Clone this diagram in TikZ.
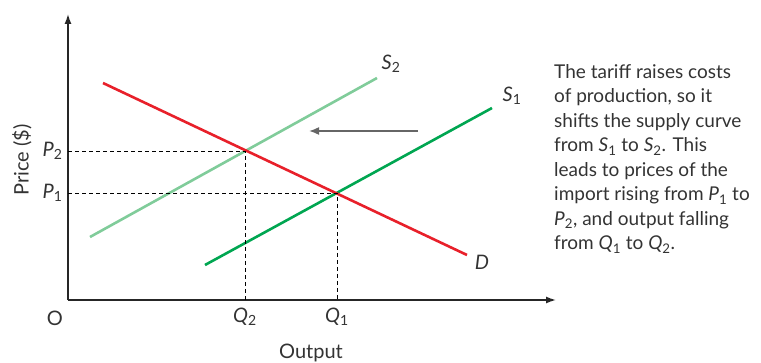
\documentclass[tikz,border=0pt]{standalone}
\usepackage{fontspec}
\setmainfont{Lato}
\usepackage{tikz}
\usetikzlibrary{arrows.meta,positioning}

\definecolor{dred}{HTML}{E8202A}
\definecolor{sgreen}{HTML}{00A651}
\definecolor{lgreen}{HTML}{80CC9A}
\definecolor{txt}{HTML}{333333}
\newcommand{\vr}[2]{\textit{#1}\textsubscript{#2}}

\begin{document}
\begin{tikzpicture}[x=1pt,y=1pt,font=\fontsize{20}{24.5}\selectfont,text=txt,
  axis/.style={line width=1.4pt,black!85,-{Latex[length=10pt,width=7pt]}},
  curve/.style={line width=2.6pt},
  guide/.style={black,line width=0.9pt,dash pattern=on 4pt off 3pt}]
  \useasboundingbox (0,0) rectangle (761,362);
  % axes
  \coordinate (O) at (68,62);
  \coordinate (ytop) at (68,348);
  \coordinate (xend) at (556,62);
  \draw[axis] (O)--(ytop);
  \draw[axis] (O)--(xend);
  % curves
  \coordinate (D0) at (103,279);
  \coordinate (D1) at (467,107);
  \coordinate (S10) at (205,97);
  \coordinate (S11) at (492,254);
  \coordinate (S20) at (90,125);
  \coordinate (S21) at (377,284);
  \draw[curve,lgreen] (S20)--(S21);
  \draw[curve,sgreen] (S10)--(S11);
  \draw[curve,dred] (D0)--(D1);
  % equilibria
  \coordinate (E2) at (245,211);
  \coordinate (E1) at (337,169);
  \coordinate (P2) at (O|-E2);
  \coordinate (P1) at (O|-E1);
  \coordinate (Q2) at (O-|E2);
  \coordinate (Q1) at (O-|E1);
  \draw[guide] (P2)--(E2)--(Q2);
  \draw[guide] (P1)--(E1)--(Q1);
  % shift arrow
  \coordinate (A0) at (418,231);
  \coordinate (A1) at (309,231);
  \draw[black!60,line width=1.6pt,-{Latex[length=10pt,width=8pt]}] (A0)--(A1);
  % labels
  \node[left=2pt] (lP2) at (P2) {\vr{P}{2}};
  \node[left=2pt] (lP1) at (P1) {\vr{P}{1}};
  \node[below=4pt] (lQ2) at (Q2) {\vr{Q}{2}};
  \node[below=4pt] (lQ1) at (Q1) {\vr{Q}{1}};
  \node (lO) at (55,44) {O};
  \node (lS2) at (391,298) {\vr{S}{2}};
  \node (lS1) at (512,266) {\vr{S}{1}};
  \node (lD) at (482,100) {\textit{D}};
  \node (xlab) at (311,9) {Output};
  \node[rotate=90] (ylab) at (22,202) {Price (\$)};
  \node[anchor=north west,align=left,inner sep=0pt,
        font=\fontsize{19}{24.5}\selectfont] (note) at (554,298)
    {The tariff raises costs\\
     of production, so it\\
     shifts the supply curve\\
     from \vr{S}{1} to \vr{S}{2}. This\\
     leads to prices of the\\
     import rising from \vr{P}{1} to\\
     \vr{P}{2}, and output falling\\
     from \vr{Q}{1} to \vr{Q}{2}.};
\end{tikzpicture}
\end{document}
